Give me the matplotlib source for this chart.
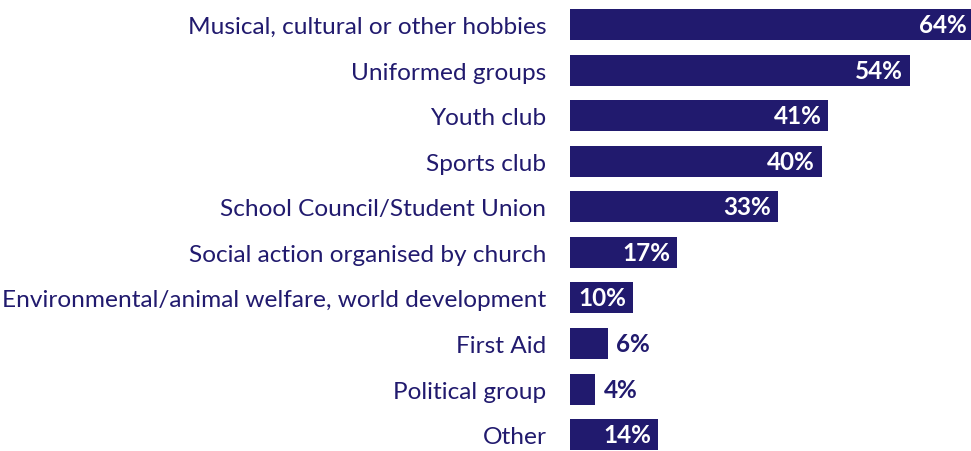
import matplotlib.pyplot as plt

categories = [
    "Musical, cultural or other hobbies",
    "Uniformed groups",
    "Youth club",
    "Sports club",
    "School Council/Student Union",
    "Social action organised by church",
    "Environmental/animal welfare, world development",
    "First Aid",
    "Political group",
    "Other",
]
values = [64, 54, 41, 40, 33, 17, 10, 6, 4, 14]

NAVY = "#211a6e"
FONT = "Lato"

fig = plt.figure(figsize=(9.71, 4.52), dpi=100)
ax = fig.add_axes([570 / 971, 0, 1 - 570 / 971, 1])

y = list(range(len(categories)))
ax.barh(y, values, height=0.68, color=NAVY)

ax.set_xlim(0, 63.65)
ax.set_ylim(9.36, -0.56)

ax.set_yticks(y)
ax.set_yticklabels(categories, fontsize=17.6, color=NAVY, fontfamily=FONT)
ax.tick_params(axis="y", length=0, pad=17)
ax.set_xticks([])
for s in ax.spines.values():
    s.set_visible(False)

# value labels: white inside longer bars, navy just past short ones
for yi, v in zip(y, values):
    txt = f"{v}%"
    if v >= 10:
        ax.annotate(txt, (v, yi), xytext=(-5, 0), textcoords="offset points",
                    ha="right", va="center", color="white", fontsize=17.5,
                    fontweight="bold", fontfamily=FONT, annotation_clip=False)
    else:
        ax.annotate(txt, (v, yi), xytext=(6, 0), textcoords="offset points",
                    ha="left", va="center", color=NAVY, fontsize=17.5,
                    fontweight="bold", fontfamily=FONT, annotation_clip=False)

fig.savefig("out.png", dpi=100)
